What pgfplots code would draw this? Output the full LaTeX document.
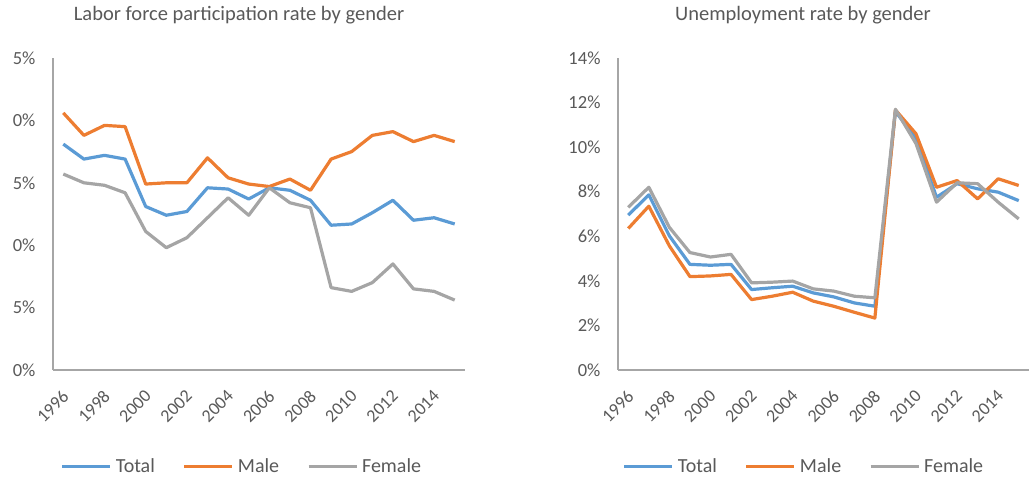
\documentclass[border=0pt]{standalone}
\usepackage{pgfplots}
\pgfplotsset{compat=1.18}
\usepackage{fontspec}
\setmainfont{Carlito}
\definecolor{cblue}{HTML}{5B9BD5}
\definecolor{corange}{HTML}{ED7D31}
\definecolor{cgray}{HTML}{A5A5A5}
\definecolor{ctext}{HTML}{595959}
\definecolor{caxis}{HTML}{A6A6A6}

\pgfplotstableread{
year total male female
1996 18.1 20.6 15.7
1997 16.9 18.8 15.0
1998 17.2 19.6 14.8
1999 16.9 19.5 14.2
2000 13.1 14.9 11.1
2001 12.4 15.0 9.8
2002 12.7 15.0 10.6
2003 14.6 17.0 12.2
2004 14.5 15.4 13.8
2005 13.7 14.9 12.4
2006 14.6 14.7 14.6
2007 14.4 15.3 13.4
2008 13.6 14.4 13.0
2009 11.6 16.9 6.6
2010 11.7 17.5 6.3
2011 12.6 18.8 7.0
2012 13.6 19.1 8.5
2013 12.0 18.3 6.5
2014 12.2 18.8 6.3
2015 11.7 18.3 5.6
}\lfpr

\pgfplotstableread{
year total male female
1996 6.95 6.35 7.30
1997 7.86 7.35 8.20
1998 6.02 5.57 6.40
1999 4.74 4.19 5.27
2000 4.70 4.22 5.07
2001 4.74 4.29 5.19
2002 3.61 3.16 3.91
2003 3.69 3.31 3.94
2004 3.76 3.49 3.99
2005 3.46 3.09 3.64
2006 3.28 2.86 3.54
2007 3.01 2.59 3.31
2008 2.86 2.33 3.24
2009 11.60 11.67 11.70
2010 10.40 10.60 10.16
2011 7.75 8.20 7.53
2012 8.36 8.50 8.40
2013 8.13 7.68 8.36
2014 7.98 8.58 7.53
2015 7.60 8.28 6.78
}\unemp

\pgfplotsset{
  mystyle/.style={
    scale only axis,
    height=312pt,
    axis x line=bottom,
    axis y line=left,
    axis line style={-, caxis, line width=1.6pt},
    major tick length=0pt,
    xmin=1995.5, xmax=2015.5,
    xtick={1996,1998,2000,2002,2004,2006,2008,2010,2012,2014},
    xticklabels={1996,1998,2000,2002,2004,2006,2008,2010,2012,2014},
    x tick label style={xshift=-2pt, yshift=-19pt, rotate=45, anchor=north east, font=\fontsize{18}{20}\selectfont, text=ctext, inner sep=0pt},
    y tick label style={font=\fontsize{18.5}{20}\selectfont, text=ctext, xshift=-14pt},
    legend columns=3,
    legend style={draw=none, fill=none, font=\fontsize{20}{22}\selectfont, text=ctext,
      /tikz/every even column/.append style={column sep=24pt},
      nodes={inner sep=4pt}},
    legend image code/.code={\draw[#1, line width=3pt] (0pt,0pt) -- (48pt,0pt);},
    every axis plot/.append style={line width=3.2pt, line join=round},
  }
}

\begin{document}
\begin{tikzpicture}
\useasboundingbox (0,0) rectangle (1029pt,481pt);

\begin{axis}[mystyle, at={(53pt,111pt)}, anchor=south west, width=412pt,
  ymin=0, ymax=25, ytick={0,5,10,15,20,25},
  yticklabels={0\%,5\%,0\%,5\%,0\%,5\%},
  legend style={at={(0.461,-0.308)}, anchor=center}]
\addplot[cblue] table[x=year,y=total] {\lfpr};
\addplot[corange] table[x=year,y=male] {\lfpr};
\addplot[cgray] table[x=year,y=female] {\lfpr};
\legend{Total,Male,Female}
\end{axis}

\begin{axis}[mystyle, at={(618pt,111pt)}, anchor=south west, width=411pt,
  ymin=0, ymax=14, ytick={0,2,4,6,8,10,12,14},
  yticklabels={0\%,2\%,4\%,6\%,8\%,10\%,12\%,14\%},
  legend style={at={(0.455,-0.308)}, anchor=center}]
\addplot[cblue] table[x=year,y=total] {\unemp};
\addplot[corange] table[x=year,y=male] {\unemp};
\addplot[cgray] table[x=year,y=female] {\unemp};
\legend{Total,Male,Female}
\end{axis}

\node[text=ctext, font=\fontsize{20.5}{22}\selectfont] at (239pt,466pt) {Labor force participation rate by gender};
\node[text=ctext, font=\fontsize{20.5}{22}\selectfont] at (803pt,466pt) {Unemployment rate by gender};
\end{tikzpicture}
\end{document}
